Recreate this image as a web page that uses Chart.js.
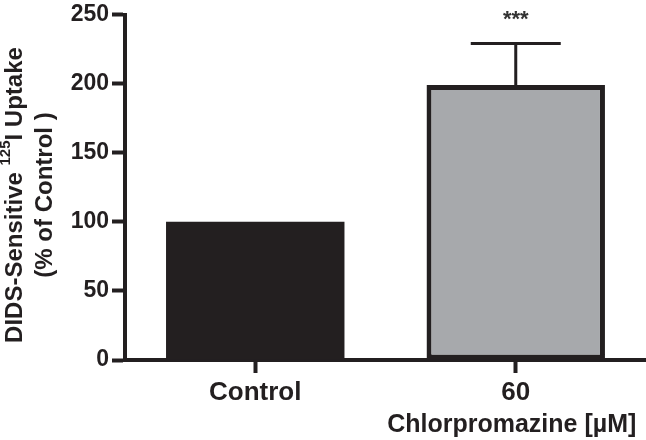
<!DOCTYPE html>
<html>
<head>
<meta charset="utf-8">
<script src="https://cdn.jsdelivr.net/npm/chart.js@4.4.0/dist/chart.umd.min.js"></script>
<style>
  html, body { margin: 0; padding: 0; background: #fff; }
  #wrap { width: 646px; height: 440px; position: relative; }
</style>
</head>
<body>
<div id="wrap"><canvas id="chart"></canvas></div>
<script>
// data
const categories = ['Control', '60'];
const uptake = [100, 199];
const sem = [0, 30];
const stars = ['', '***'];
const yTicks = [0, 50, 100, 150, 200, 250];

const ink = '#231f20';
const FONT = '"Liberation Sans", Arial, Helvetica, sans-serif';

// error bars, significance stars, axis titles
const extras = {
  id: 'extras',
  afterDatasetsDraw(chart) {
    const ctx = chart.ctx;
    const x = chart.scales.x, y = chart.scales.y;
    ctx.save();
    ctx.strokeStyle = ink;
    ctx.lineWidth = 3;
    uptake.forEach((v, i) => {
      if (!sem[i]) return;
      const cx = x.getPixelForValue(i);
      const yTop = y.getPixelForValue(v + sem[i]);
      ctx.beginPath();
      ctx.moveTo(cx, y.getPixelForValue(v));
      ctx.lineTo(cx, yTop);
      ctx.moveTo(cx - 45, yTop);
      ctx.lineTo(cx + 45, yTop);
      ctx.stroke();
    });
    ctx.fillStyle = '#333';
    ctx.font = 'bold 22px ' + FONT;
    ctx.textAlign = 'center';
    ctx.textBaseline = 'middle';
    stars.forEach((s, i) => {
      if (!s) return;
      const cx = x.getPixelForValue(i);
      ctx.fillText(s, cx, y.getPixelForValue(uptake[i] + sem[i]) - 24);
    });
    ctx.restore();
  },
  afterDraw(chart) {
    const ctx = chart.ctx;
    const x = chart.scales.x;
    ctx.save();
    ctx.fillStyle = ink;
    // x axis title below the 60 label
    ctx.font = 'bold 25px ' + FONT;
    ctx.textAlign = 'center';
    ctx.textBaseline = 'middle';
    ctx.fillText('Chlorpromazine [µM]', x.getPixelForValue(1) - 4, 425);

    // rotated y title with superscript
    const cy = 195;
    const parts = [
      { t: 'DIDS-Sensitive ', f: 'bold 24px ', dy: 0 },
      { t: '125', f: 'bold 15px ', dy: -9 },
      { t: 'I Uptake', f: 'bold 24px ', dy: 0 }
    ];
    ctx.translate(15, cy);
    ctx.rotate(-Math.PI / 2);
    ctx.textAlign = 'left';
    let w = 0;
    parts.forEach(p => { ctx.font = p.f + FONT; w += ctx.measureText(p.t).width; });
    let px = -w / 2;
    parts.forEach(p => {
      ctx.font = p.f + FONT;
      ctx.fillText(p.t, px, p.dy);
      px += ctx.measureText(p.t).width;
    });
    ctx.font = 'bold 24px ' + FONT;
    ctx.textAlign = 'center';
    ctx.fillText('(% of Control )', 0, 30);
    ctx.restore();
  }
};

new Chart(document.getElementById('chart'), {
  type: 'bar',
  data: {
    labels: categories,
    datasets: [{
      data: uptake,
      backgroundColor: [ink, '#a7a9ac'],
      borderColor: ink,
      borderWidth: [0, 5],
      borderSkipped: false,
      barPercentage: 0.685,
      categoryPercentage: 1
    }]
  },
  options: {
    responsive: true,
    maintainAspectRatio: false,
    animation: false,
    layout: { padding: { top: 0, right: 0, bottom: 0, left: 0 } },
    plugins: { legend: { display: false }, tooltip: { enabled: false } },
    scales: {
      x: {
        grid: { display: true, offset: false, drawOnChartArea: false, tickLength: 13, tickWidth: 4, tickColor: ink },
        border: { display: true, width: 4, color: ink },
        ticks: { color: ink, font: { family: FONT, size: 26, weight: 'bold' }, padding: 4 },
        afterFit: s => { s.height = 80; }
      },
      y: {
        min: 0,
        max: 250,
        afterBuildTicks: s => { s.ticks = yTicks.map(v => ({ value: v })); },
        grid: { display: true, drawOnChartArea: false, tickLength: 13, tickWidth: 4, tickColor: ink },
        border: { display: true, width: 4, color: ink },
        ticks: { color: ink, font: { family: FONT, size: 23, weight: 'bold', lineHeight: 1 }, padding: 3 },
        afterFit: s => { s.width = 125; }
      }
    }
  },
  plugins: [extras]
});
</script>
</body>
</html>
